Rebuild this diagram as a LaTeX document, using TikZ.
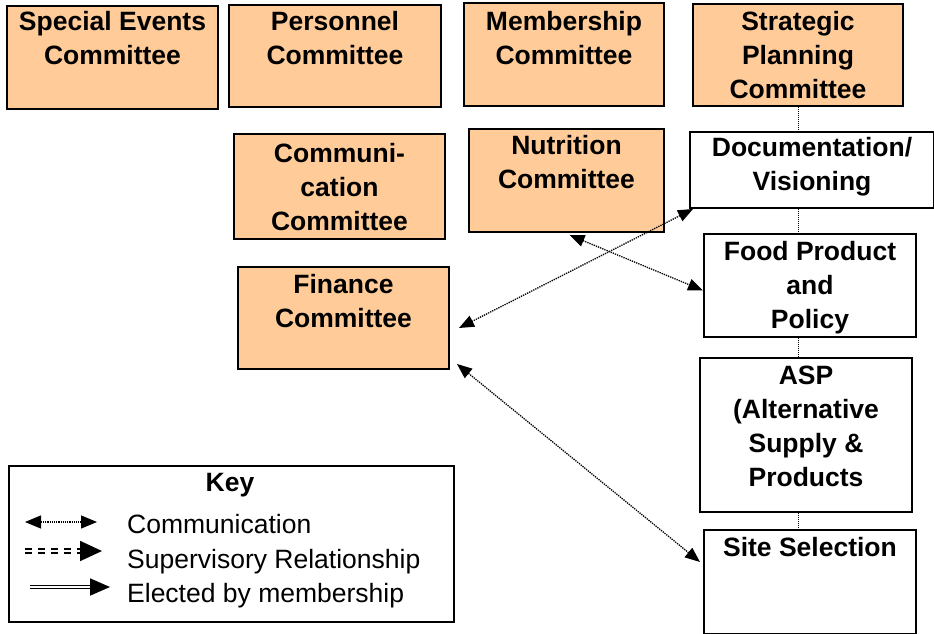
\documentclass[tikz,border=0pt]{standalone}
\usepackage{fontspec}
\setmainfont{Liberation Sans}
\usetikzlibrary{arrows.meta}

\definecolor{peach}{RGB}{255,204,153}
\newcommand{\boxfont}{\fontsize{26.5}{34}\selectfont\bfseries}
\newcommand{\keyfont}{\fontsize{26.5}{34}\selectfont}

\tikzset{
  cbox/.style={draw, line width=2pt, fill=peach, anchor=north west, inner sep=0pt},
  wbox/.style={cbox, fill=white},
  lbl/.style={anchor=north, align=center, inner sep=0pt, font=\boxfont},
  comm/.style={densely dotted, line width=1.3pt,
    {Triangle[width=12pt,length=15pt]}-{Triangle[width=12pt,length=15pt]}},
  link/.style={densely dotted, line width=1pt},
}

\begin{document}
\begin{tikzpicture}[x=1pt,y=-1pt]
  \useasboundingbox (0,0) rectangle (934,634);

  % committees
  \node[cbox, minimum width=211, minimum height=103] (se) at (6,5) {};
  \node[cbox, minimum width=212, minimum height=102] (pe) at (228,4) {};
  \node[cbox, minimum width=200, minimum height=103] (me) at (463,2) {};
  \node[cbox, minimum width=210, minimum height=102] (sp) at (692,3) {};
  \node[cbox, minimum width=211, minimum height=105] (co) at (233,133) {};
  \node[cbox, minimum width=195, minimum height=103] (nu) at (468,128) {};
  \node[cbox, minimum width=211, minimum height=102] (fi) at (237,266) {};

  % working groups
  \node[wbox, minimum width=244, minimum height=76] (doc) at (689,131) {};
  \node[wbox, minimum width=212, minimum height=103] (fo) at (703,233) {};
  \node[wbox, minimum width=212, minimum height=154] (asp) at (699,357) {};
  \node[wbox, minimum width=212, minimum height=104] (si) at (703,529) {};

  \node[lbl] (se-t) at ([yshift=-2pt]se.north) {\strut Special Events\\Committee};
  \node[lbl] (pe-t) at ([yshift=-3pt]pe.north) {\strut Personnel\\Committee};
  \node[lbl] (me-t) at ([yshift=-4pt]me.north) {\strut Membership\\Committee};
  \node[lbl] (sp-t) at ([yshift=-3pt]sp.north) {\strut Strategic\\Planning\\Committee};
  \node[lbl] (co-t) at ([yshift=-5pt]co.north) {\strut Communi-\\cation\\Committee};
  \node[lbl] (nu-t) at ([yshift=-2pt]nu.north) {\strut Nutrition\\Committee};
  \node[lbl] (fi-t) at ([yshift=-3pt]fi.north) {\strut Finance\\Committee};
  \node[lbl] (doc-t) at ([yshift=-1pt]doc.north) {\strut Documentation/\\Visioning};
  \node[lbl] (fo-t) at ([yshift=-3pt]fo.north) {\strut Food Product\\and\\Policy};
  \node[lbl] (asp-t) at ([yshift=-3pt]asp.north) {\strut ASP\\(Alternative\\Supply \&\\Products};
  \node[lbl] (si-t) at ([yshift=-3pt]si.north) {\strut Site Selection};

  % chain under strategic planning
  \draw[link] (sp.south) -- (sp.south |- doc.north);
  \draw[link] (doc.south -| sp.south) -- (fo.north -| sp.south);
  \draw[link] (fo.south -| sp.south) -- (asp.north -| sp.south);
  \draw[link] (asp.south -| sp.south) -- (si.north -| sp.south);

  % communication
  \draw[comm] ([xshift=4pt]doc.south west) -- ([shift={(9,10)}]fi.east);
  \draw[comm] ([shift={(3,2)}]nu.south) -- ([shift={(0,5)}]fo.west);
  \draw[comm] ([shift={(7,-6)}]fi.south east) -- ([shift={(-3,33)}]si.north west);

  % key
  \node[wbox, minimum width=445, minimum height=156] (key) at (8,465) {};
  \node[anchor=base, inner sep=0pt, font=\boxfont] (key-t) at (230,491) {Key};
  \coordinate (k1a) at (25,522);  \coordinate (k1b) at (97,522);
  \coordinate (k2a) at (25,551);  \coordinate (k2b) at (102,551);
  \coordinate (k3a) at (30,587);  \coordinate (k3b) at (110,587);
  \draw[densely dotted, line width=1.2pt,
    {Triangle[width=13pt,length=16pt]}-{Triangle[width=13pt,length=16pt]}] (k1a) -- (k1b);
  \draw[double, line width=1.8pt, double distance=2pt,
    dash pattern=on 7pt off 6pt, -{Triangle[width=20pt,length=22pt]}] (k2a) -- (k2b);
  \draw[double, line width=1.7pt, double distance=1.4pt,
    -{Triangle[width=17pt,length=20pt]}] (k3a) -- (k3b);
  \node[anchor=base west, inner sep=0pt, font=\keyfont] (k1-t) at (127,533) {Communication};
  \node[anchor=base west, inner sep=0pt, font=\keyfont] (k2-t) at (127,568) {Supervisory Relationship};
  \node[anchor=base west, inner sep=0pt, font=\keyfont] (k3-t) at (127,602) {Elected by membership};
\end{tikzpicture}
\end{document}
